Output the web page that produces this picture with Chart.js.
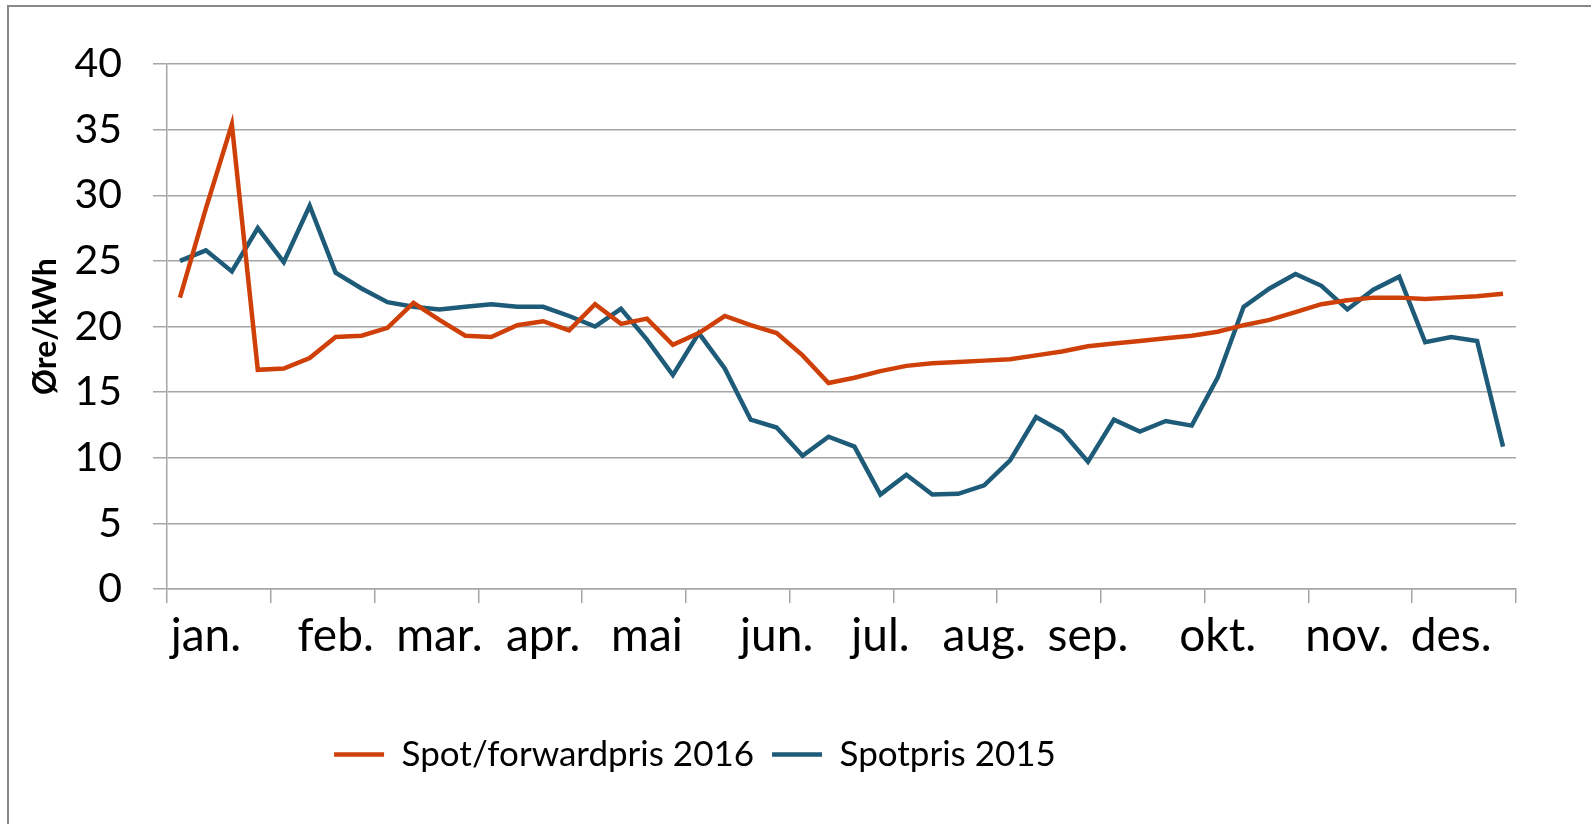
<!DOCTYPE html>
<html lang="no">

<head>
  <meta charset="UTF-8" />
  <title>Spotpris</title>
  <script src="https://cdn.jsdelivr.net/npm/chart.js"></script>
  <style>
    html,
    body {
      margin: 0;
      padding: 0;
      background: #fff;
    }

    .frame {
      position: absolute;
      left: 7px;
      top: 5px;
      width: 1584px;
      height: 819px;
      border-top: 2px solid #888;
      border-left: 2px solid #888;
    }

    .wrap {
      position: absolute;
      left: 0;
      top: 0;
      width: 1591px;
      height: 824px;
    }
  </style>
</head>

<body>
  <div class="frame"></div>
  <div class="wrap">
    <canvas id="chart_spot"></canvas>
  </div>

  <script>
    // month names and the week (0-based) where each label sits
    const monthNames = ['jan.', 'feb.', 'mar.', 'apr.', 'mai', 'jun.', 'jul.', 'aug.', 'sep.', 'okt.', 'nov.', 'des.'];
    const monthWeek = [1, 6, 10, 14, 18, 23, 27, 31, 35, 40, 45, 49];
    const weekCount = 52;

    // øre/kWh, one value per week
    const forward2016 = [
      22.2, 29.0, 35.4, 16.7, 16.8, 17.6, 19.2, 19.3, 19.9, 21.8,
      20.5, 19.3, 19.2, 20.1, 20.4, 19.7, 21.7, 20.2, 20.6, 18.6,
      19.5, 20.8, 20.1, 19.5, 17.8, 15.7, 16.1, 16.6, 17.0, 17.2,
      17.3, 17.4, 17.5, 17.8, 18.1, 18.5, 18.7, 18.9, 19.1, 19.3,
      19.6, 20.1, 20.5, 21.1, 21.7, 22.0, 22.2, 22.2, 22.1, 22.2,
      22.3, 22.5
    ];
    const spot2015 = [
      25.0, 25.8, 24.2, 27.5, 24.9, 29.2, 24.1, 22.9, 21.85, 21.5,
      21.3, 21.5, 21.7, 21.5, 21.5, 20.8, 20.0, 21.35, 19.0, 16.3,
      19.5, 16.8, 12.9, 12.3, 10.15, 11.6, 10.85, 7.2, 8.7, 7.2,
      7.25, 7.9, 9.8, 13.1, 12.0, 9.7, 12.9, 12.0, 12.8, 12.45,
      16.1, 21.5, 22.9, 24.0, 23.1, 21.3, 22.8, 23.8, 18.8, 19.2,
      18.9, 10.85
    ];

    const yTicks = { min: 0, max: 40, step: 5 };

    let weekLabels = [];
    for (let i = 0; i < weekCount; i++) {
      let m = monthWeek.indexOf(i);
      weekLabels.push(m >= 0 ? monthNames[m] : '');
    }

    const gridGray = '#a6a6a6';

    // move the legend so it is centred like the original
    const legendShift = {
      id: 'legendShift',
      afterLayout(chart) {
        chart.legend.left = 0;
        chart.legend.right = 1390;
      }
    };

    const ctx = document.getElementById('chart_spot');

    new Chart(ctx, {
      type: 'line',
      data: {
        labels: weekLabels,
        datasets: [{
          label: 'Spot/forwardpris 2016',
          data: forward2016,
          borderColor: '#cf4008',
          backgroundColor: '#cf4008',
          borderWidth: 4.5,
          pointRadius: 0,
          tension: 0,
        }, {
          label: 'Spotpris 2015',
          data: spot2015,
          borderColor: '#1d5b79',
          backgroundColor: '#1d5b79',
          borderWidth: 4.5,
          pointRadius: 0,
          tension: 0,
        }],
      },
      options: {
        responsive: true,
        maintainAspectRatio: false,
        animation: false,
        layout: {
          padding: { left: 0, top: 64, right: 75, bottom: 42 }
        },
        plugins: {
          legend: {
            display: true,
            position: 'bottom',
            labels: {
              usePointStyle: true,
              pointStyle: 'line',
              pointStyleWidth: 50,
              padding: 18,
              color: '#000',
              font: { family: 'Lato', size: 35 },
            },
          },
          tooltip: { enabled: false },
        },
        scales: {
          x: {
            offset: true,
            grid: {
              display: true,
              offset: true,
              drawOnChartArea: false,
              drawTicks: true,
              tickLength: 14,
              lineWidth: 1.5,
              color: (c) => (c.index === undefined || c.index % 4 === 0) ? gridGray : 'rgba(0,0,0,0)',
            },
            border: { display: true, color: gridGray, width: 1.5 },
            ticks: {
              autoSkip: false,
              maxRotation: 0,
              minRotation: 0,
              padding: 6,
              color: '#000',
              font: { family: 'Lato', size: 46 },
            },
            afterFit(scale) {
              scale.height = 130;
            },
          },
          y: {
            min: yTicks.min,
            max: yTicks.max,
            grid: {
              color: gridGray,
              lineWidth: 1.5,
              drawTicks: true,
              tickLength: 14,
            },
            border: { display: true, color: gridGray, width: 1.5 },
            ticks: {
              stepSize: yTicks.step,
              padding: 31,
              color: '#000',
              font: { family: 'Lato', size: 41 },
            },
            title: {
              display: true,
              text: 'Øre/kWh',
              color: '#000',
              padding: { top: 26, bottom: 0 },
              font: { family: 'Lato', size: 32, weight: 'bold' },
            },
            afterFit(scale) {
              scale.width = 167;
            },
          },
        },
      },
      plugins: [legendShift],
    });
  </script>
</body>

</html>
